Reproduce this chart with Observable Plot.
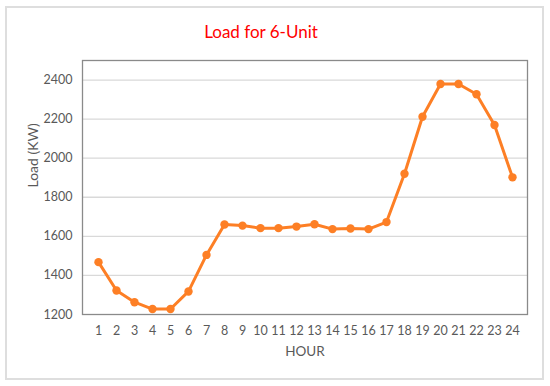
<!DOCTYPE html>
<html>
<head>
<meta charset="utf-8">
<script src="https://cdn.jsdelivr.net/npm/d3@7"></script>
<script src="https://cdn.jsdelivr.net/npm/@observablehq/plot@0.6"></script>
<style>
  html, body { margin: 0; padding: 0; background: #fff; }
  #wrap { position: relative; width: 550px; height: 386px; overflow: hidden; font-family: Lato, "Open Sans", sans-serif; }
  #border { position: absolute; left: 5px; top: 6px; width: 535px; height: 370px; border: 2px solid #dedede; box-sizing: content-box; }
  #title { position: absolute; left: 0; top: 21px; width: 522px; text-align: center; color: #ff0000; font-size: 17px; }
  #chart { position: absolute; left: 0; top: 0; }
</style>
</head>
<body>
<div id="wrap">
  <div id="border"></div>
  <div id="chart"></div>
  <div id="title">Load for 6-Unit</div>
</div>
<script>
const hours = [1,2,3,4,5,6,7,8,9,10,11,12,13,14,15,16,17,18,19,20,21,22,23,24];
const load = [1468,1323,1263,1228,1228,1318,1505,1661,1655,1642,1642,1650,1662,1637,1640,1637,1673,1920,2212,2380,2380,2327,2170,1902];
const yTicks = [1200,1400,1600,1800,2000,2200,2400];
const titleText = "Load for 6-Unit";
const xLabel = "HOUR";
const yLabel = "Load (KW)";

const data = hours.map((h, i) => ({hour: h, load: load[i]}));
const lineColor = "#fd7f25";

const plot = Plot.plot({
  width: 550,
  height: 386,
  marginLeft: 82,
  marginRight: 23,
  marginTop: 60,
  marginBottom: 72,
  style: {fontFamily: "Lato, 'Open Sans', sans-serif", fontSize: "12px", color: "#595959", background: "transparent"},
  x: {type: "point", domain: hours, padding: 0.5, label: null},
  y: {domain: [1200, 2500], label: null},
  marks: [
    Plot.ruleY(yTicks.filter(d => d > 1200), {stroke: "#d9d9d9", strokeWidth: 1.3}),
    Plot.frame({stroke: "#8a8a8a", strokeWidth: 1.3}),
    Plot.axisY({ticks: yTicks, tickFormat: d => String(d), tickSize: 0, tickPadding: 10, fontSize: 12.5, fill: "#595959", label: null}),
    Plot.axisX({tickSize: 0, tickPadding: 12, fontSize: 12.5, fill: "#595959", label: null}),
    Plot.line(data, {x: "hour", y: "load", stroke: lineColor, strokeWidth: 3}),
    Plot.dot(data, {x: "hour", y: "load", fill: lineColor, r: 4.2}),
    Plot.text([xLabel], {frameAnchor: "bottom", dy: 41, fontSize: 13.5, fill: "#595959"}),
    Plot.text([yLabel], {frameAnchor: "left", dx: -49, rotate: -90, fontSize: 14, fill: "#595959"})
  ]
});
document.getElementById("chart").appendChild(plot);
</script>
</body>
</html>
